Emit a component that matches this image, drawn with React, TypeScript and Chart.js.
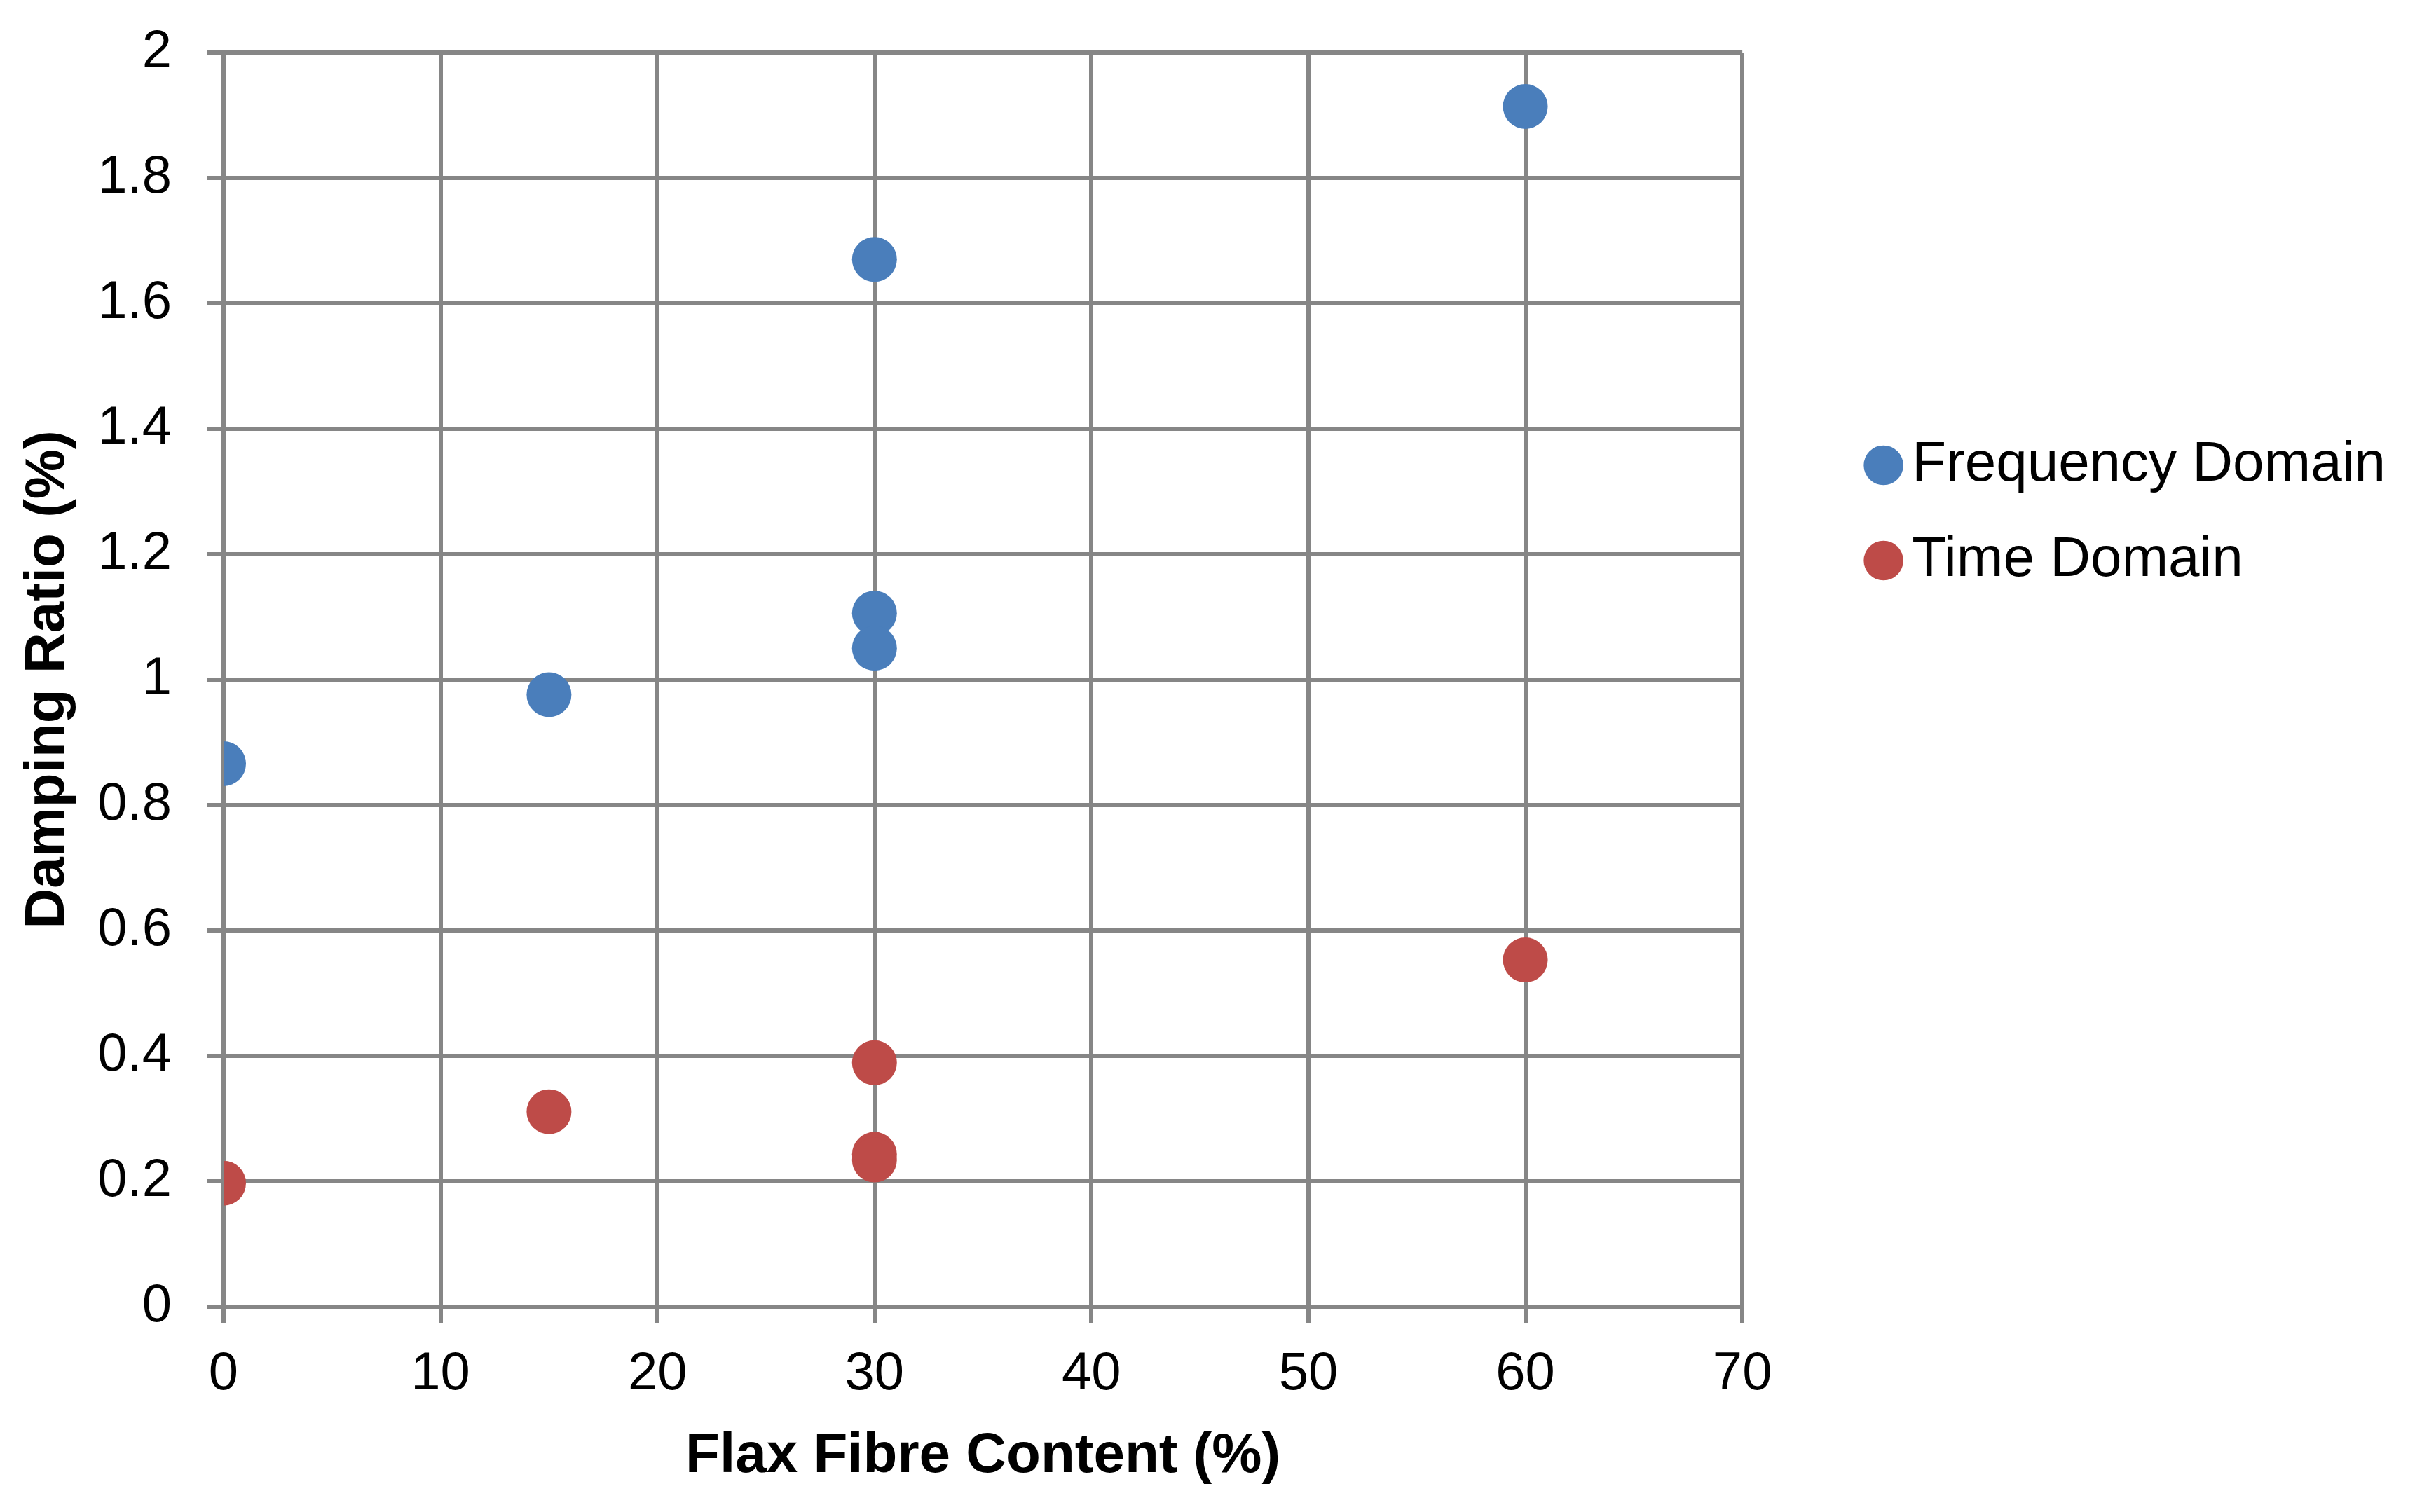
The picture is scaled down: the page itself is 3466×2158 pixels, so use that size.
import React, { useEffect, useRef } from 'react';
import { Chart, registerables } from 'chart.js';

Chart.register(...registerables);

const fibreFreq = [0, 15, 30, 30, 30, 60];
const dampingFreq = [0.866, 0.976, 1.67, 1.106, 1.05, 1.914];
const fibreTime = [0, 15, 30, 30, 30, 60];
const dampingTime = [0.197, 0.311, 0.389, 0.243, 0.234, 0.553];
const seriesNames = ['Frequency Domain', 'Time Domain'];

const GRID = '#868686';
const FONT = "'Liberation Sans', Arial, sans-serif";

const toPoints = (xs: number[], ys: number[]) => xs.map((x, i) => ({ x, y: ys[i] }));

const App = (): JSX.Element => {
  const canvasRef = useRef<HTMLCanvasElement>(null);

  useEffect(() => {
    const ctx = canvasRef.current.getContext('2d');

    const chart = new Chart(ctx, {
      type: 'scatter',
      data: {
        datasets: [
          {
            label: seriesNames[0],
            data: toPoints(fibreFreq, dampingFreq),
            backgroundColor: '#4A7EBB',
            borderColor: '#4A7EBB',
            borderWidth: 0,
            pointRadius: 32,
            pointHoverRadius: 32,
          },
          {
            label: seriesNames[1],
            data: toPoints(fibreTime, dampingTime),
            backgroundColor: '#BE4B48',
            borderColor: '#BE4B48',
            borderWidth: 0,
            pointRadius: 32,
            pointHoverRadius: 32,
          },
        ],
      },
      options: {
        animation: false,
        responsive: true,
        maintainAspectRatio: false,
        events: [],
        layout: {
          padding: { top: 67, left: 13, bottom: 23, right: 44 },
        },
        plugins: {
          tooltip: { enabled: false },
          legend: {
            position: 'right',
            align: 'start',
            maxWidth: 1000,
            title: {
              display: true,
              text: ' ',
              font: { size: 10 },
              padding: { top: 481, bottom: 0 },
            },
            labels: {
              usePointStyle: true,
              pointStyle: 'circle',
              boxWidth: 1,
              boxHeight: 40,
              padding: 56,
              color: '#000',
              font: { family: FONT, size: 80 },
            },
          },
        },
        scales: {
          x: {
            type: 'linear',
            min: 0,
            max: 70,
            afterFit: (s: any) => {
              s.height = 262;
            },
            ticks: {
              stepSize: 10,
              padding: 28,
              color: '#000',
              font: { family: FONT, size: 76 },
            },
            grid: { color: GRID, lineWidth: 6, tickLength: 23 },
            border: { color: GRID, width: 6 },
            title: {
              display: true,
              text: 'Flax Fibre Content (%)',
              color: '#000',
              font: { family: FONT, size: 80, weight: 'bold' },
              padding: { top: 24, bottom: 0 },
            },
          },
          y: {
            type: 'linear',
            min: 0,
            max: 2,
            afterFit: (s: any) => {
              s.width = 298;
            },
            ticks: {
              stepSize: 0.2,
              padding: 51,
              color: '#000',
              font: { family: FONT, size: 76, lineHeight: 0.2 },
              callback: (v: any) => String(+Number(v).toFixed(1)),
            },
            grid: { color: GRID, lineWidth: 6, tickLength: 23 },
            border: { color: GRID, width: 6 },
            title: {
              display: true,
              text: 'Damping Ratio (%)',
              color: '#000',
              font: { family: FONT, size: 80, weight: 'bold' },
              padding: { top: 0, bottom: 0 },
            },
          },
          gap: {
            type: 'linear',
            position: 'right',
            display: true,
            afterFit: (s: any) => {
              s.width = 145;
            },
            ticks: { display: false },
            grid: { display: false },
            border: { display: false },
          },
        },
      },
    });
    return () => {
      chart.destroy();
    };
  }, []);

  return (
    <div style={{ position: 'relative', width: 3450, height: 2142 }}>
      <canvas ref={canvasRef} />
    </div>
  );
};

export default App;
